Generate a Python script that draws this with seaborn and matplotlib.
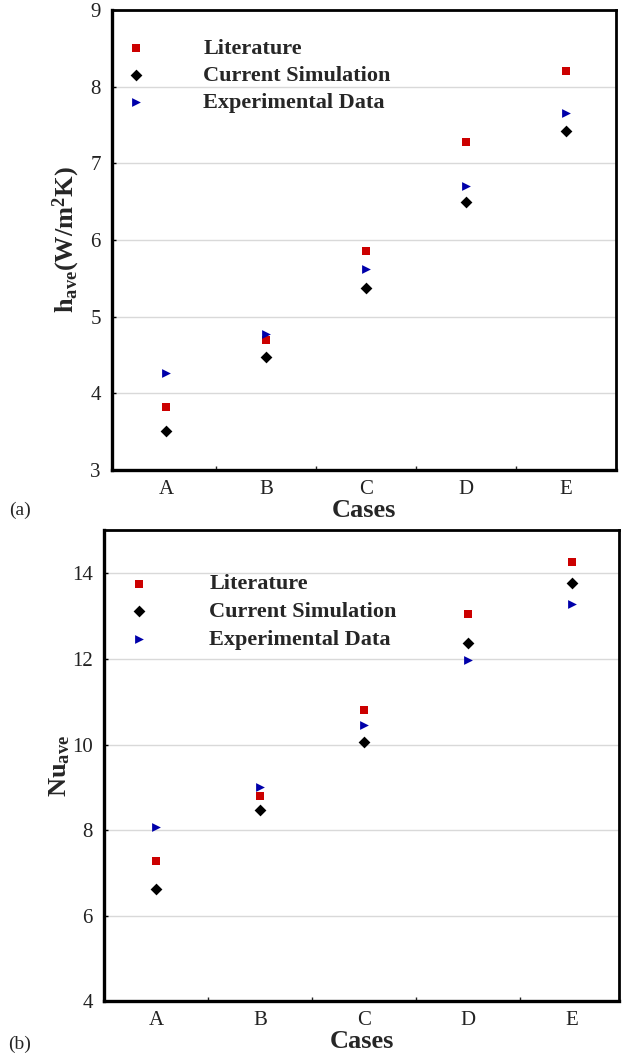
import matplotlib
matplotlib.use("Agg")
import matplotlib.pyplot as plt
import seaborn as sns
import pandas as pd
from matplotlib.ticker import FixedLocator

# Cases compared in both panels
cases = ["A", "B", "C", "D", "E"]

# Average heat transfer coefficient h_ave (W/m^2K)
h_literature = [3.82, 4.69, 5.86, 7.28, 8.20]
h_simulation = [3.51, 4.47, 5.38, 6.49, 7.42]
h_experiment = [4.27, 4.78, 5.62, 6.70, 7.65]

# Average Nusselt number Nu_ave
nu_literature = [7.29, 8.80, 10.81, 13.05, 14.26]
nu_simulation = [6.63, 8.48, 10.06, 12.37, 13.77]
nu_experiment = [8.08, 9.01, 10.46, 11.98, 13.29]

series_names = ["Literature", "Current Simulation", "Experimental Data"]
series_colors = ["#cc0000", "#000000", "#0000aa"]
series_markers = ["s", "D", ">"]
series_sizes = [34, 36, 40]

sns.set_theme(style="white")
plt.rcParams["font.family"] = ["Liberation Serif", "DejaVu Serif"]
plt.rcParams["mathtext.fontset"] = "custom"
plt.rcParams["mathtext.rm"] = "Liberation Serif"
plt.rcParams["mathtext.bf"] = "Liberation Serif:bold"
plt.rcParams["mathtext.it"] = "Liberation Serif:italic"

fig = plt.figure(figsize=(6.23, 10.59), dpi=100)
ax_h = fig.add_axes([0.1798, 0.5562, 0.8085, 0.4344])
ax_nu = fig.add_axes([0.1669, 0.0543, 0.8266, 0.4448])


def long_frame(values):
    rows = []
    for name, vals in zip(series_names, values):
        for c, v in zip(cases, vals):
            rows.append({"Case": c, "Value": v, "Series": name})
    return pd.DataFrame(rows)


def draw_panel(ax, df, ylim, yticks, xlim, ylabel, ylabelpad,
               legend_anchor, textpad, spacing):
    for name, col, mk, sz in zip(series_names, series_colors, series_markers, series_sizes):
        sub = df[df["Series"] == name]
        sns.scatterplot(data=sub, x="Case", y="Value", ax=ax, color=col,
                        marker=mk, s=sz, linewidth=0, label=name, zorder=3)
    ax.set_ylim(*ylim)
    ax.set_xlim(*xlim)
    ax.set_yticks(yticks)
    ax.set_xticks(range(len(cases)))
    ax.set_xticklabels(cases)
    ax.xaxis.set_minor_locator(FixedLocator([i + 0.5 for i in range(len(cases) - 1)]))
    ax.yaxis.grid(True, color="#d9d9d9", linewidth=1.0)
    ax.set_axisbelow(True)
    for s in ax.spines.values():
        s.set_visible(True)
        s.set_color("black")
        s.set_linewidth(2.0)
    ax.spines["left"].set_linewidth(2.4)
    ax.spines["bottom"].set_linewidth(2.4)
    ax.tick_params(axis="y", which="major", direction="in", length=3, width=1,
                   left=True, pad=8, labelsize=15, colors="black")
    ax.tick_params(axis="x", which="major", length=0, pad=7, labelsize=15)
    ax.tick_params(axis="x", which="minor", direction="in", length=3, width=1,
                   bottom=True)
    for lab in ax.get_xticklabels() + ax.get_yticklabels():
        lab.set_color("#222222")
    ax.set_xlabel("Cases", fontsize=19, fontweight="bold", labelpad=0)
    ax.set_ylabel(ylabel, fontsize=19, labelpad=ylabelpad)
    leg = ax.legend(loc="upper left", bbox_to_anchor=legend_anchor,
                    frameon=False, fontsize=16, handlelength=1.0,
                    handletextpad=textpad, labelspacing=spacing,
                    borderpad=0, borderaxespad=0, markerscale=1.0)
    for t in leg.get_texts():
        t.set_fontweight("bold")


draw_panel(ax_h, long_frame([h_literature, h_simulation, h_experiment]),
           (3, 9), range(3, 10), (-0.54, 4.5),
           r"$\mathbf{h_{ave}(W/m^2K)}$", 6, (0.026, 0.939), 2.52, 0.30)
draw_panel(ax_nu, long_frame([nu_literature, nu_simulation, nu_experiment]),
           (4, 15), range(4, 15, 2), (-0.5, 4.45),
           r"$\mathbf{Nu_{ave}}$", 0, (0.0466, 0.908), 2.66, 0.32)

fig.text(0.032, 1 - 510 / 1059, "(a)", fontsize=14, ha="center", va="center")
fig.text(0.032, 1 - 1044 / 1059, "(b)", fontsize=14, ha="center", va="center")

fig.savefig("out.png", dpi=100)
